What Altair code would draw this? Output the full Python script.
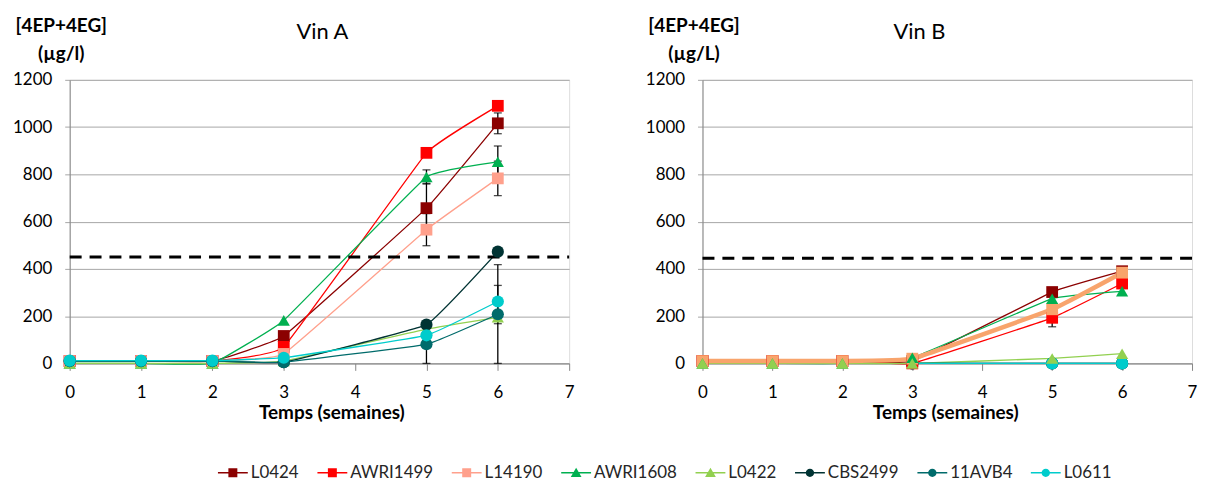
import altair as alt
import pandas as pd

# ---------------- data ----------------
weeks = [0, 1, 2, 3, 5, 6]
series = ["L0424", "AWRI1499", "L14190", "AWRI1608", "L0422", "CBS2499", "11AVB4", "L0611"]
colors = ["#8B0000", "#FF0000", "#FFA08C", "#00B050", "#92D050", "#003333", "#006B6B", "#00CCCC"]
markers = ["square", "square", "square", "triangle", "triangle", "circle", "circle", "circle"]

# Vin A
vinA_L0424 = [10, 10, 10, 116, 657, 1016]
vinA_AWRI1499 = [10, 10, 10, 70, 891, 1090]
vinA_L14190 = [10, 10, 10, 40, 566, 783]
vinA_AWRI1608 = [0, 0, 0, 182, 789, 853]
vinA_L0422 = [0, 0, 0, 10, 145, 195]
vinA_CBS2499 = [10, 10, 10, 5, 164, 473]
vinA_11AVB4 = [10, 10, 10, 5, 81, 208]
vinA_L0611 = [12, 12, 12, 24, 119, 262]

# Vin B (None = not measured)
vinB_L0424 = [10, 10, 10, 10, 302, 390]
vinB_AWRI1499 = [10, 10, 10, 0, 193, 338]
vinB_L14190 = [10, 10, 10, 20, 229, 384]
vinB_AWRI1608 = [0, 0, 0, 24, 274, 305]
vinB_L0422 = [0, 0, 0, 0, 21, 41]
vinB_CBS2499 = [None, None, None, 0, 0, 0]
vinB_11AVB4 = [None, None, None, 0, 0, 0]
vinB_L0611 = [None, None, None, 0, 0, 0]

# error bars (half-width)
errA_series = ["L0424", "L14190", "AWRI1608", "11AVB4", "L0424", "L14190", "AWRI1608", "11AVB4", "L0611", "L0422"]
errA_week = [5, 5, 5, 5, 6, 6, 6, 6, 6, 6]
errA_size = [105, 68, 30, 81, 44, 73, 67, 210, 68, 27]

errB_series = ["AWRI1499", "L0424", "AWRI1499"]
errB_week = [5, 6, 6]
errB_size = [38, 12, 15]

threshold_A = 450
threshold_B = 445

FONT = "Lato"


def long_df(values_by_series):
    rows = []
    for s, m, vals in zip(series, markers, values_by_series):
        for w, v in zip(weeks, vals):
            if v is not None:
                rows.append({"series": s, "marker": m, "week": w, "value": v})
    return pd.DataFrame(rows)


def err_df(df, s_list, w_list, e_list):
    rows = []
    for s, w, e in zip(s_list, w_list, e_list):
        v = float(df[(df.series == s) & (df.week == w)].value.iloc[0])
        rows.append({"series": s, "week": w, "value": max(0.0, v - e), "hi": v + e})
    return pd.DataFrame(rows)


dfA = long_df([vinA_L0424, vinA_AWRI1499, vinA_L14190, vinA_AWRI1608,
               vinA_L0422, vinA_CBS2499, vinA_11AVB4, vinA_L0611])
dfB = long_df([vinB_L0424, vinB_AWRI1499, vinB_L14190, vinB_AWRI1608,
               vinB_L0422, vinB_CBS2499, vinB_11AVB4, vinB_L0611])
eA = err_df(dfA, errA_series, errA_week, errA_size)
eB = err_df(dfB, errB_series, errB_week, errB_size)

SHAPES = {"square": ("square", 140), "triangle": ("triangle-up", 150), "circle": ("circle", 150)}

# legend symbols: line + marker (unit square = symbolSize box)
LINE = "M-1,-0.05H1V0.05H-1Z"
P_SQ = LINE + "M-0.3,-0.3H0.3V0.3H-0.3Z"
P_TR = LINE + "M0,-0.34L0.36,0.28H-0.36Z"
P_CI = LINE + "M0.28,0A0.28,0.28,0,1,1,-0.28,0A0.28,0.28,0,1,1,0.28,0Z"
legend_paths = [P_SQ, P_SQ, P_SQ, P_TR, P_TR, P_CI, P_CI, P_CI]

INTERP = dict(interpolate="cardinal", tension=0.75)


def panel(df, edf, thr, title, title_x, ytitle, xtitle_x, width,
          shape_order, override=None, legend=False):
    xaxis = alt.Axis(values=list(range(8)), format="d", title="Temps (semaines)",
                     grid=False, domainColor="#868686", tickColor="#868686",
                     tickSize=7, labelPadding=27, labelBaseline="alphabetic",
                     labelFontSize=17, labelFont=FONT, labelColor="black",
                     titleFont=FONT, titleFontSize=19, titleFontWeight="bold",
                     titleColor="black", titleX=xtitle_x, titleY=55,
                     titleBaseline="alphabetic", titleAlign="center",
                     labelFlush=False)
    yaxis = alt.Axis(values=list(range(0, 1201, 200)), format="d", grid=True,
                     gridColor="#A6A6A6", domainColor="#868686",
                     tickColor="#A6A6A6", tickSize=5, labelPadding=13,
                     labelFontSize=17, labelFont=FONT, labelColor="black",
                     title=ytitle, titleAngle=0, titleAlign="center",
                     titleBaseline="alphabetic", titleX=-9, titleY=-49,
                     titleFont=FONT, titleFontSize=19, titleFontWeight="bold",
                     titleColor="black", titleLineHeight=29)
    xscale = alt.Scale(domain=[0, 7], nice=False, zero=False)
    yscale = alt.Scale(domain=[0, 1200], nice=False)

    def X(field="week"):
        return alt.X(f"{field}:Q", scale=xscale, axis=xaxis)

    def Y(field="value"):
        return alt.Y(f"{field}:Q", scale=yscale, axis=yaxis)

    cscale = alt.Scale(domain=series, range=colors)
    color = alt.Color("series:N", scale=cscale, legend=None)

    base = alt.Chart(df)
    main = base
    if override:
        main = base.transform_filter(alt.datum.series != override[0])

    layers = []
    if legend:
        leg = alt.Legend(orient="none", legendX=149, legendY=380, direction="horizontal",
                         columns=8, title=None, symbolSize=900, symbolStrokeWidth=0,
                         symbolOpacity=1, labelFont=FONT, labelFontSize=17,
                         labelColor="#262626", labelOffset=3, columnPadding=18)
        layers.append(base.transform_filter("false").mark_point(filled=True, opacity=1)
                      .encode(x=X(), y=Y(),
                              color=alt.Color("series:N", scale=cscale, legend=leg),
                              shape=alt.Shape("series:N", scale=alt.Scale(domain=series, range=legend_paths),
                                              legend=leg)))

    layers.append(main.mark_line(strokeWidth=1.3, **INTERP)
                  .encode(x=X(), y=Y(), color=color))
    if override:
        layers.append(base.transform_filter(alt.datum.series == override[0])
                      .mark_line(strokeWidth=override[2], color=override[1], **INTERP)
                      .encode(x=X(), y=Y()))

    thr_df = pd.DataFrame({"week": [0], "week2": [7], "value": [thr]})
    layers.append(alt.Chart(thr_df).mark_rule(color="black", strokeWidth=3, strokeDash=[12, 8])
                  .encode(x=X(), x2="week2:Q", y=Y()))

    layers.append(alt.Chart(edf).mark_errorbar(ticks={"size": 8}, thickness=1.3, color="black")
                  .encode(x=X(), y=Y(), y2="hi:Q"))

    for shp in shape_order:
        vshape, size = SHAPES[shp]
        layers.append(main.transform_filter(alt.datum.marker == shp)
                      .mark_point(filled=True, opacity=1, shape=vshape, size=size)
                      .encode(x=X(), y=Y(), color=color))
        if override and markers[series.index(override[0])] == shp:
            layers.append(base.transform_filter(alt.datum.series == override[0])
                          .mark_point(filled=True, opacity=1, shape=vshape, size=size, color=override[1])
                          .encode(x=X(), y=Y()))

    layers.append(alt.Chart(pd.DataFrame({"t": [title]}))
                  .mark_text(font=FONT, fontSize=22, color="black", baseline="alphabetic", align="center")
                  .encode(text="t:N", x=alt.value(title_x), y=alt.value(-41)))

    return alt.layer(*layers).properties(width=width, height=285)


left = panel(dfA, eA, threshold_A, "Vin A", 254, ["[4EP+4EG]", "(µg/l)"], 263, 502,
             ["square", "triangle", "circle"], legend=True)
right = panel(dfB, eB, threshold_B, "Vin B", 218, ["[4EP+4EG]", "(µg/L)"], 244, 492,
              ["circle", "square", "triangle"], override=("L14190", "#F8A46C", 4.5))

chart = (alt.hconcat(left, right, spacing=70)
         .properties(padding={"left": 4, "top": 6, "right": 0, "bottom": 0})
         .configure_view(stroke=None)
         .configure(font=FONT))

chart.save("out.html", embed_options={"renderer": "svg", "actions": False})
